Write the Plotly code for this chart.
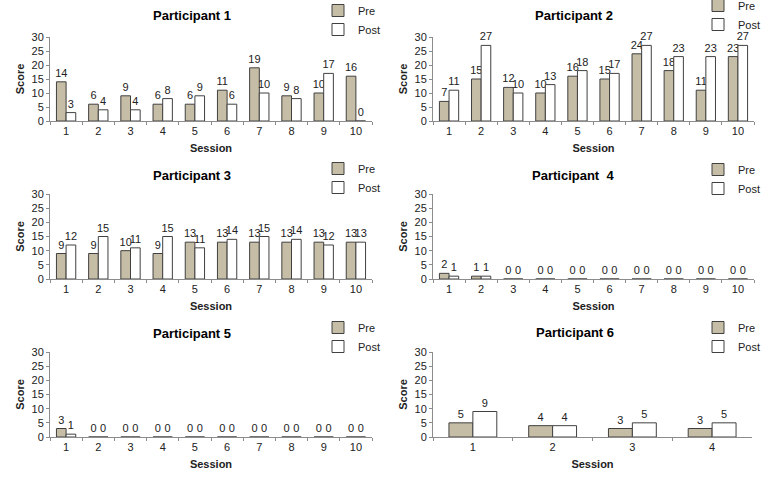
import plotly.graph_objects as go

W, H = 768, 492

sessions10 = ["1", "2", "3", "4", "5", "6", "7", "8", "9", "10"]
sessions4 = ["1", "2", "3", "4"]

p1_pre = [14, 6, 9, 6, 6, 11, 19, 9, 10, 16]
p1_post = [3, 4, 4, 8, 9, 6, 10, 8, 17, 0]
p2_pre = [7, 15, 12, 10, 16, 15, 24, 18, 11, 23]
p2_post = [11, 27, 10, 13, 18, 17, 27, 23, 23, 27]
p3_pre = [9, 9, 10, 9, 13, 13, 13, 13, 13, 13]
p3_post = [12, 15, 11, 15, 11, 14, 15, 14, 12, 13]
p4_pre = [2, 1, 0, 0, 0, 0, 0, 0, 0, 0]
p4_post = [1, 1, 0, 0, 0, 0, 0, 0, 0, 0]
p5_pre = [3, 0, 0, 0, 0, 0, 0, 0, 0, 0]
p5_post = [1, 0, 0, 0, 0, 0, 0, 0, 0, 0]
p6_pre = [5, 4, 3, 3]
p6_post = [9, 4, 5, 5]

titles = ["Participant 1", "Participant 2", "Participant 3",
          "Participant  4", "Participant 5", "Participant 6"]
series_names = ["Pre", "Post"]

panels = [
    (sessions10, p1_pre, p1_post),
    (sessions10, p2_pre, p2_post),
    (sessions10, p3_pre, p3_post),
    (sessions10, p4_pre, p4_post),
    (sessions10, p5_pre, p5_post),
    (sessions4, p6_pre, p6_post),
]

# layout in pixels: (x_left, x_right, y_top, y_bottom)
boxes = [
    (50, 372, 37, 121),
    (433, 754, 37, 121),
    (50, 372, 194, 279),
    (433, 754, 194, 279),
    (50, 372, 352, 437),
    (433, 752, 352, 437),
]
title_pos = [(192, 16), (574, 16), (192, 175), (573, 175), (192, 333), (575, 332)]
legend_pos = [(358, 10), (738, 5), (358, 168), (738, 169), (358, 327), (738, 327)]

PRE_COLOR = "#C6BDA6"
POST_COLOR = "#FFFFFF"
EDGE = "#404040"
TXT = "#222222"
FONT = "Liberation Sans, Arial, sans-serif"

fig = go.Figure()
layout = dict(
    width=W, height=H,
    margin=dict(l=0, r=0, t=0, b=0, autoexpand=False),
    paper_bgcolor="white", plot_bgcolor="white",
    barmode="group", bargap=0.4, bargroupgap=0,
    font=dict(family=FONT, size=11, color=TXT),
    annotations=[],
)

for i, ((cats, pre, post), box) in enumerate(zip(panels, boxes)):
    n = i + 1
    xa = "x" if n == 1 else f"x{n}"
    ya = "y" if n == 1 else f"y{n}"
    lg = "legend" if n == 1 else f"legend{n}"
    for name, vals, col in zip(series_names, [pre, post], [PRE_COLOR, POST_COLOR]):
        fig.add_trace(go.Bar(
            x=cats, y=vals, name=name, xaxis=xa, yaxis=ya, legend=lg,
            marker=dict(color=col, line=dict(color=EDGE, width=1)),
            text=[str(v) for v in vals], textposition="outside",
            constraintext="none", cliponaxis=False,
            textfont=dict(size=11, color=TXT, family=FONT),
            hoverinfo="skip",
        ))
    x0, x1, y0, y1 = box
    xkey = "xaxis" if n == 1 else f"xaxis{n}"
    ykey = "yaxis" if n == 1 else f"yaxis{n}"
    layout[xkey] = dict(
        domain=[x0 / W, x1 / W], anchor=ya, type="category",
        showline=True, linecolor="#8C8C8C", linewidth=1,
        ticks="outside", tickson="boundaries", ticklen=3, tickcolor="#8C8C8C",
        showgrid=False, zeroline=False,
        tickfont=dict(size=11, color=TXT, family=FONT),
        title=dict(text="<b>Session</b>", font=dict(size=11, color=TXT, family=FONT), standoff=8),
        automargin=False, fixedrange=True,
    )
    layout[ykey] = dict(
        domain=[1 - y1 / H, 1 - y0 / H], anchor=xa, range=[0, 30],
        tick0=0, dtick=5,
        showline=True, linecolor="#8C8C8C", linewidth=1,
        ticks="outside", ticklen=3, tickcolor="#8C8C8C",
        showgrid=False, zeroline=False,
        tickfont=dict(size=11, color=TXT, family=FONT),
        title=dict(text="<b>Score</b>", font=dict(size=11, color=TXT, family=FONT), standoff=4),
        automargin=False, fixedrange=True,
    )
    tx, ty = title_pos[i]
    layout["annotations"].append(dict(
        text=f"<b>{titles[i]}</b>", x=tx / W, y=1 - ty / H, xref="paper", yref="paper",
        xanchor="center", yanchor="middle", showarrow=False,
        font=dict(size=13, color="#000000", family=FONT),
    ))
    lx, ly = legend_pos[i]
    layout[lg] = dict(
        x=(lx - 40) / W, y=1 - (ly - 14) / H, xanchor="left", yanchor="top",
        xref="paper", yref="paper",
        bgcolor="rgba(0,0,0,0)", borderwidth=0,
        font=dict(size=11, color=TXT, family=FONT),
        itemwidth=30, tracegroupgap=0, traceorder="normal",
    )

fig.update_layout(**layout)
fig.write_html(
    "out.html",
    config={"displayModeBar": False},
    post_script="document.body.style.margin='0';document.body.style.overflow='hidden';",
)
